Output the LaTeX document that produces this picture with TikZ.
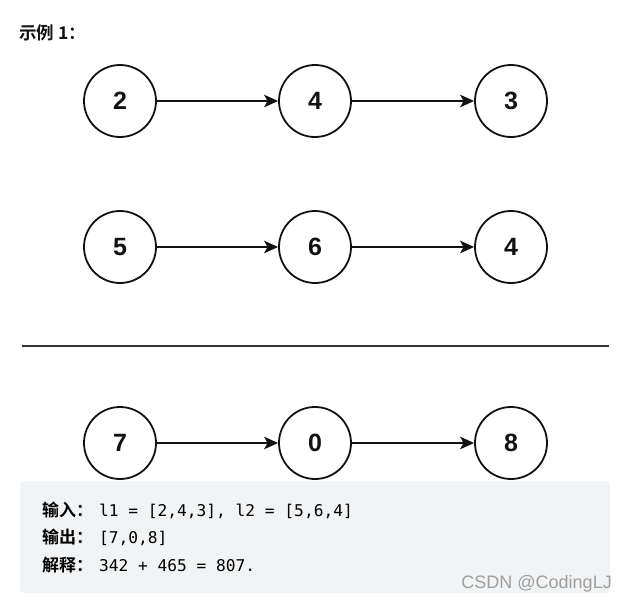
\documentclass[tikz,border=0pt]{standalone}
\usepackage{fontspec}
\setmainfont{Liberation Sans}
\newfontfamily\cjkb[BoldFont={Noto Sans CJK SC Bold}]{Noto Sans CJK SC}
\newfontfamily\codefont{DejaVu Sans Mono}
\usetikzlibrary{arrows.meta}
\definecolor{boxgray}{HTML}{F2F3F5}
\definecolor{ink}{HTML}{111111}
\tikzset{
  lnode/.style={circle, draw=ink, line width=1.8pt, minimum size=72pt, inner sep=0pt,
    font=\fontsize{25}{25}\selectfont\bfseries, text=ink},
  link/.style={draw=ink, line width=1.6pt, -{Stealth[length=14pt,width=12.5pt,inset=3.5pt]}},
  codeline/.style={anchor=west, inner sep=0pt, text=black}
}
\begin{document}
\begin{tikzpicture}[x=1pt,y=-1pt]
\useasboundingbox (0,0) rectangle (627,605);
\node[anchor=west, inner sep=0pt, font=\cjkb\bfseries\fontsize{17.5}{17.5}\selectfont, text=ink] (title) at (19,33) {示例 1：};
% row 1
\node[lnode] (a1) at (120,101) {2};
\node[lnode] (a2) at (315,101) {4};
\node[lnode] (a3) at (511,101) {3};
% row 2
\node[lnode] (b1) at (120,247) {5};
\node[lnode] (b2) at (315,247) {6};
\node[lnode] (b3) at (511,247) {4};
% separator
\coordinate (sl) at (22,346);
\coordinate (sr) at (609,346);
\draw[line width=2pt, draw=black!80] (sl) -- (sr);
% result box
\fill[boxgray, rounded corners=4pt] (20,481) rectangle (610,593);
% row 3
\node[lnode] (c1) at (120,443) {7};
\node[lnode] (c2) at (315,443) {0};
\node[lnode] (c3) at (511,443) {8};
\draw[link] (a1) -- (a2);
\draw[link] (a2) -- (a3);
\draw[link] (b1) -- (b2);
\draw[link] (b2) -- (b3);
\draw[link] (c1) -- (c2);
\draw[link] (c2) -- (c3);
% text
\node[codeline] (t1) at (42,510) {{\cjkb\bfseries\fontsize{17}{17}\selectfont 输入：}\hspace{6pt}{\codefont\fontsize{16.2}{16.2}\selectfont l1 = [2,4,3], l2 = [5,6,4]}};
\node[codeline] (t2) at (42,537) {{\cjkb\bfseries\fontsize{17}{17}\selectfont 输出：}\hspace{6pt}{\codefont\fontsize{16.2}{16.2}\selectfont [7,0,8]}};
\node[codeline] (t3) at (42,565) {{\cjkb\bfseries\fontsize{17}{17}\selectfont 解释：}\hspace{6pt}{\codefont\fontsize{16.2}{16.2}\selectfont 342 + 465 = 807.}};
\node[anchor=east, inner sep=0pt, font=\fontsize{18}{18}\selectfont, text=black!38] (wm) at (612,584) {CSDN @CodingLJ};
\end{tikzpicture}
\end{document}
